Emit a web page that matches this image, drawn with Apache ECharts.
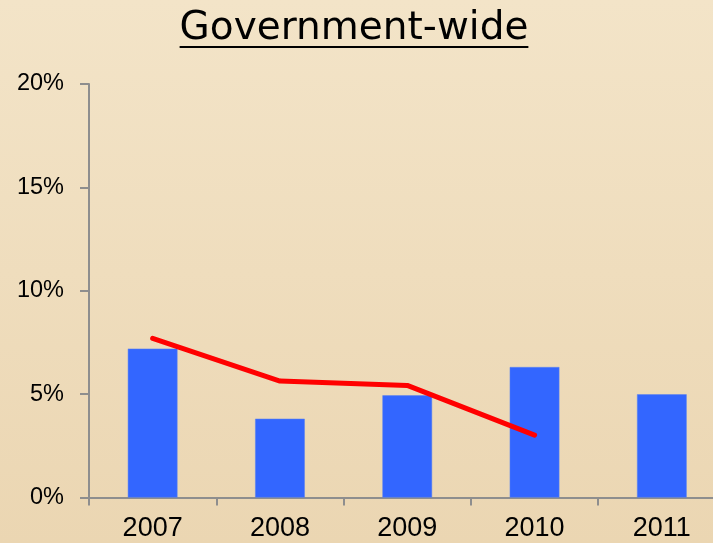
<!DOCTYPE html>
<html>
<head>
<meta charset="utf-8">
<script src="https://cdn.jsdelivr.net/npm/echarts@6/dist/echarts.min.js"></script>
<style>
html,body{margin:0;padding:0;overflow:hidden;width:713px;height:543px;}
#chart{width:726px;height:543px;}
</style>
</head>
<body>
<div id="chart"></div>
<script>
const titleText = 'Government-wide';
const categories = ['2007', '2008', '2009', '2010', '2011'];
const barValues = [7.2, 3.81, 4.94, 6.31, 4.99];
const lineValues = [7.7, 5.63, 5.42, 3.02, null];
const yTicks = [0, 5, 10, 15, 20];

const titleFont = '39px "DejaVu Sans"';
const ctx = document.createElement('canvas').getContext('2d');
ctx.font = titleFont;
const titleW = ctx.measureText(titleText).width;
const titleCX = 354;

const chart = echarts.init(document.getElementById('chart'), null, {renderer: 'canvas'});
chart.setOption({
  animation: false,
  backgroundColor: {
    type: 'linear', x: 0, y: 0, x2: 0, y2: 1,
    colorStops: [{offset: 0, color: '#F3E4C8'}, {offset: 1, color: '#EBD6B2'}]
  },
  title: {
    text: titleText,
    left: titleCX - titleW / 2,
    top: 9,
    padding: 0,
    textStyle: {fontFamily: 'DejaVu Sans', fontSize: 39, fontWeight: 'normal', color: '#000'}
  },
  graphic: [{
    type: 'line',
    shape: {x1: titleCX - titleW / 2, y1: 47, x2: titleCX + titleW / 2, y2: 47},
    style: {stroke: '#000', lineWidth: 2}
  }],
  grid: {left: 89, top: 84, right: 0.5, bottom: 45.5, containLabel: false},
  xAxis: {
    type: 'category',
    data: categories,
    axisLine: {lineStyle: {color: '#8E8E8E', width: 2}},
    axisTick: {show: true, length: 8, lineStyle: {color: '#8E8E8E', width: 2}},
    axisLabel: {fontFamily: 'Liberation Sans', fontSize: 27, color: '#000', margin: 18}
  },
  yAxis: {
    type: 'value',
    min: yTicks[0],
    max: yTicks[yTicks.length - 1],
    interval: 5,
    splitLine: {show: false},
    axisLine: {show: true, lineStyle: {color: '#8E8E8E', width: 2}},
    axisTick: {show: true, length: 9, lineStyle: {color: '#8E8E8E', width: 2}},
    axisLabel: {fontFamily: 'Liberation Sans', fontSize: 23.5, color: '#000', margin: 25, formatter: '{value}%'}
  },
  series: [
    {
      type: 'bar',
      data: barValues,
      barWidth: '39%',
      itemStyle: {color: '#3366FF', borderColor: '#5A82F0', borderWidth: 0.5}
    },
    {
      type: 'line',
      data: lineValues,
      showSymbol: false,
      symbol: 'none',
      connectNulls: false,
      lineStyle: {color: '#FF0000', width: 5, cap: 'round', join: 'round'},
      z: 5
    }
  ]
});
</script>
</body>
</html>
